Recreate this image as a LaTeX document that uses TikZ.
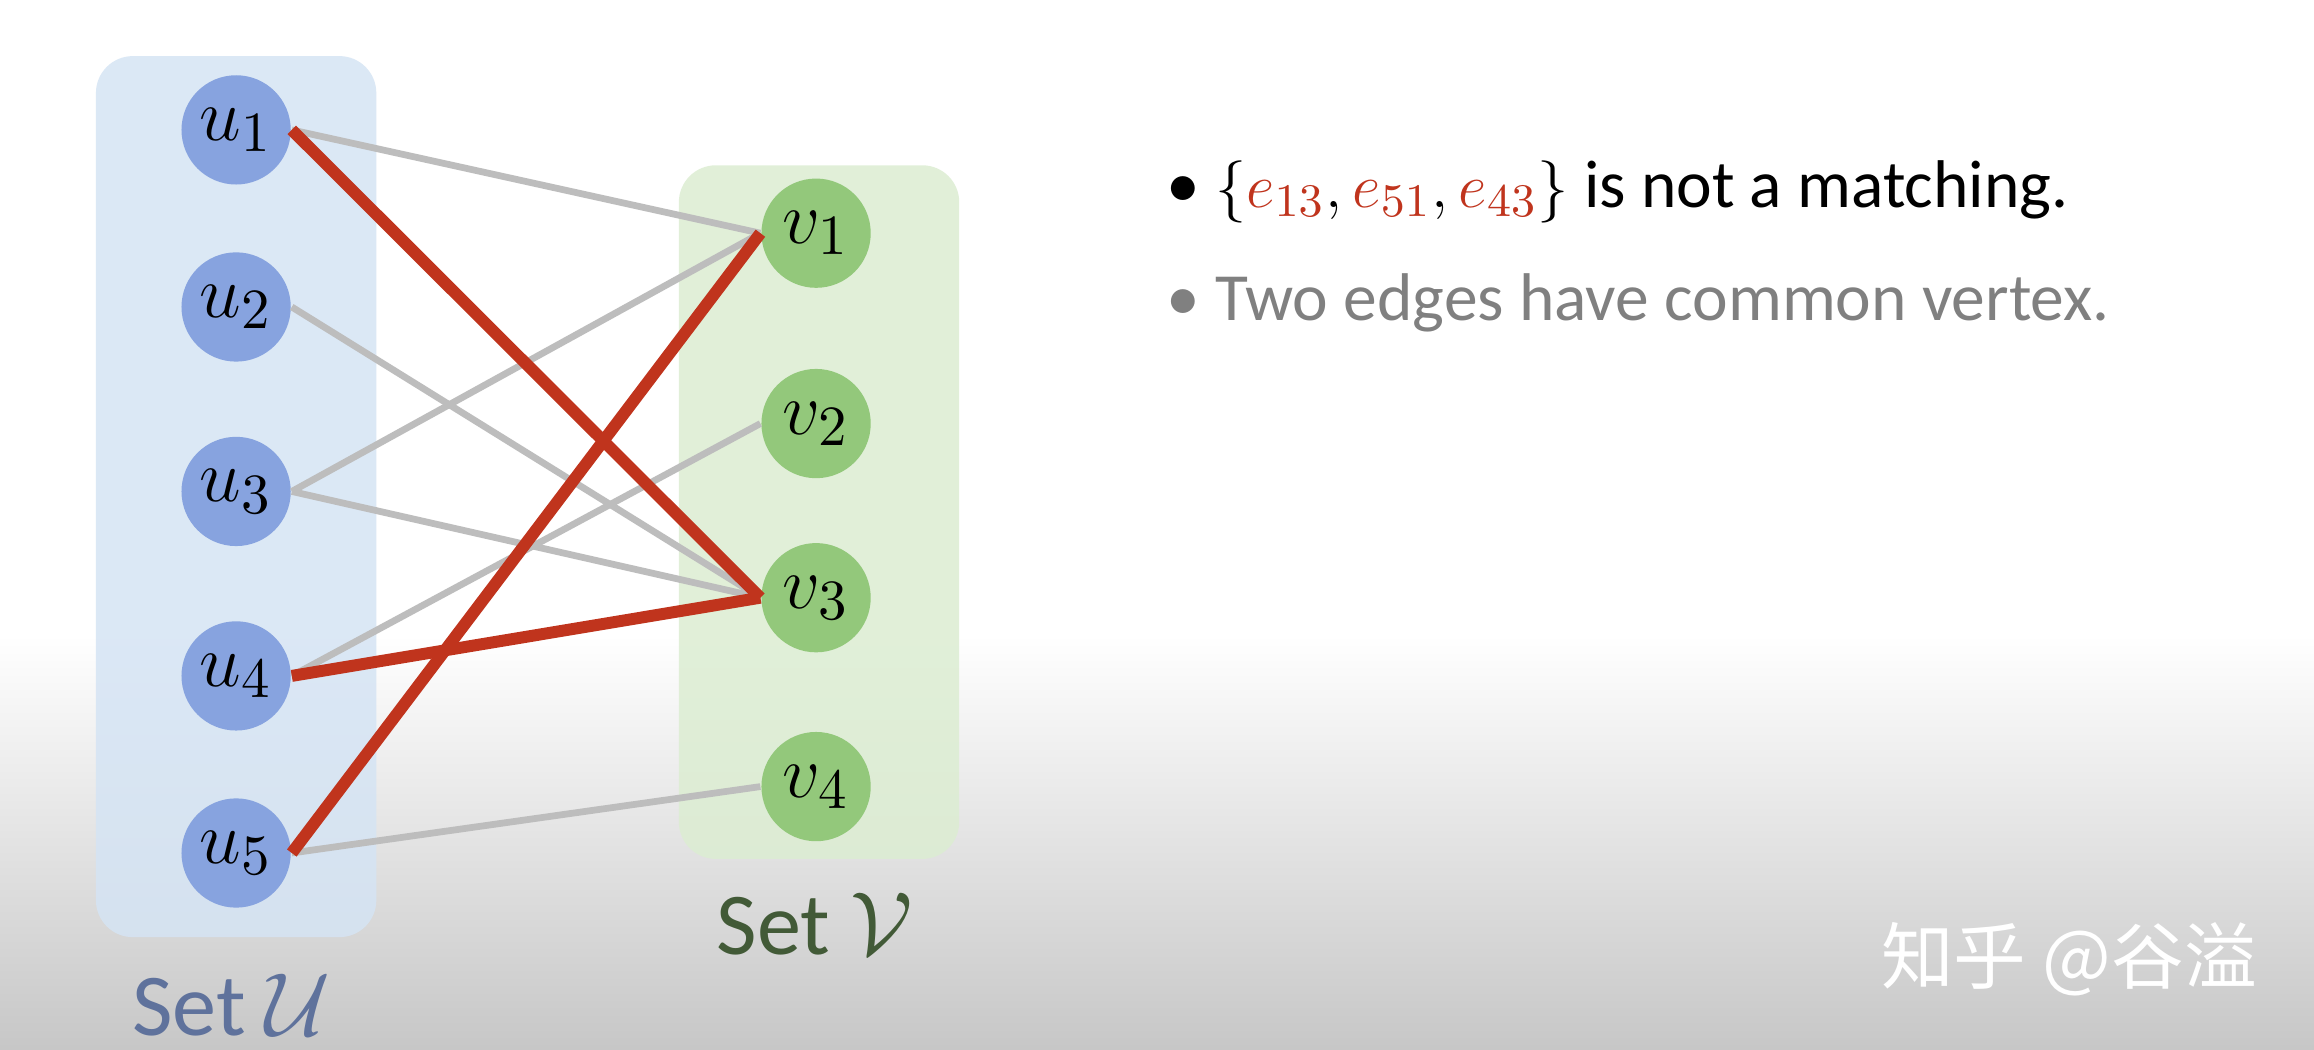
\documentclass[tikz,border=0pt]{standalone}
\usepackage{fontspec}
\usepackage{amsmath}
\setmainfont{Carlito}
\newfontfamily\cjk{Noto Sans CJK SC}
\definecolor{boxU}{HTML}{D5E4F4}
\definecolor{boxV}{HTML}{DCEDD2}
\definecolor{nodeU}{HTML}{87A3DF}
\definecolor{nodeV}{HTML}{93C87B}
\definecolor{redE}{HTML}{C0341D}
\definecolor{grayE}{HTML}{BDBDBD}
\tikzset{
  unode/.style={circle, fill=nodeU, minimum size=0.74cm, inner sep=0pt, font=\fontsize{15}{15}\selectfont},
  vnode/.style={circle, fill=nodeV, minimum size=0.74cm, inner sep=0pt, font=\fontsize{15}{15}\selectfont},
  plain/.style={grayE, line width=1.3pt},
  chosen/.style={redE, line width=2.3pt}
}
\begin{document}
\begin{tikzpicture}[x=0.01cm,y=-0.01cm]
    \useasboundingbox (0,0) rectangle (1568,711);
    \fill[white] (0,0) rectangle (1568,430);
    \shade[top color=white, bottom color=black!22] (0,430) rectangle (1568,711);
    \fill[boxU, rounded corners=0.25cm, opacity=0.85] (65,38) rectangle (255,635);
    \fill[boxV, rounded corners=0.25cm, opacity=0.85] (460,112) rectangle (650,582);
    \foreach \i/\y in {1/88,2/208,3/333,4/458,5/578}
        \node[unode] (u\i) at (160,\y) {$u_{\i}$};
    \foreach \i/\y in {1/158,2/287,3/405,4/533}
        \node[vnode] (v\i) at (553,\y) {$v_{\i}$};
    \foreach \a/\b in {1/1,2/3,3/1,3/3,4/2,5/4}
        \draw[plain] (u\a.east) -- (v\b.west);
    \foreach \a/\b in {1/3,4/3,5/1}
        \draw[chosen] (u\a.east) -- (v\b.west);
    \node[text=nodeU!70!black, font=\fontsize{17}{17}\selectfont] (setu) at (157,681) {Set $\mathcal{U}$};
    \node[text=nodeV!45!black, font=\fontsize{17}{17}\selectfont] (setv) at (552,626) {Set $\mathcal{V}$};
    \node[anchor=west, font=\fontsize{13}{16}\selectfont] (line1) at (778,130)
        {\textbullet\ $\{\textcolor{redE}{e_{13}},\textcolor{redE}{e_{51}},\textcolor{redE}{e_{43}}\}$ is not a matching.};
    \node[anchor=west, text=black!50, font=\fontsize{13}{16}\selectfont] (line2) at (778,205)
        {\textbullet\ Two edges have common vertex.};
    \node[text=white, font=\cjk\fontsize{14}{14}\selectfont] (mark) at (1402,650) {知乎 @谷溢};
\end{tikzpicture}
\end{document}
